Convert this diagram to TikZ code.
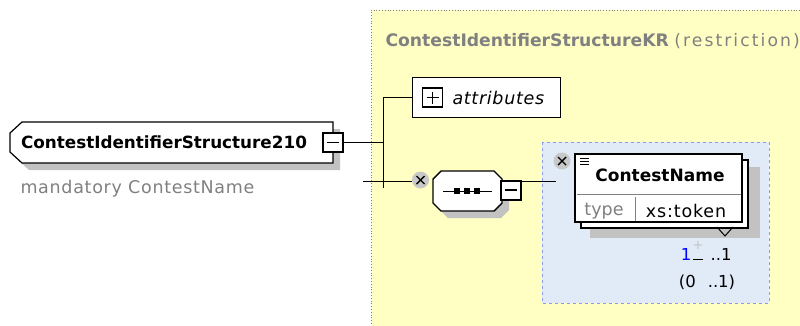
\documentclass[tikz,border=0pt]{standalone}
\usepackage{fontspec}
\setmainfont{DejaVu Sans}
\usetikzlibrary{calc}
\definecolor{cyel}{HTML}{FFFFC4}
\definecolor{cblue}{HTML}{E1EBF8}
\definecolor{cbluedge}{HTML}{8C9CF0}
\definecolor{cshadow}{HTML}{C2C2C2}
\definecolor{cgraytext}{HTML}{808080}
\definecolor{cxcirc}{HTML}{C8C8C8}
\definecolor{cnum}{HTML}{0000FF}
\begin{document}
\begin{tikzpicture}[x=1pt,y=-1pt, line width=1pt,
  pmbox/.style={draw=black, line width=2pt, fill=white, minimum width=20pt, minimum height=19pt, inner sep=0pt},
  xcirc/.style={circle, fill=cxcirc, minimum size=17pt, inner sep=0pt},
  elbox/.style={draw=black, line width=1.2pt, fill=white},
  shad/.style={fill=cshadow},
  lbl/.style={inner sep=0pt, text=black}]
\useasboundingbox (0,0) rectangle (800,325);
% yellow complex type area
\begin{scope}
\clip (0,0) rectangle (800,325);
\fill[cyel] (371,10) rectangle (810,335);
\draw[cgraytext, dotted, line width=0.8pt] (371,335) -- (371,10) -- (810,10);
\end{scope}
\node[lbl, anchor=west, text=cgraytext, font=\fontsize{17.2}{18}\selectfont] (title) at (385,41)
  {\textbf{ContestIdentifierStructureKR} {\addfontfeature{LetterSpace=12}(restriction)}};

% main element
\fill[shad] (29,129) -- (340,129) -- (340,170) -- (29,170) -- (17,159) -- (17,140) -- cycle;
\draw[elbox] (22,122) -- (333,122) -- (333,163) -- (22,163) -- (10,152) -- (10,133) -- cycle;
\node[lbl, font=\bfseries\fontsize{16.8}{18}\selectfont] (mainlbl) at (164,142) {ContestIdentifierStructure210};
\node[pmbox] (mm) at (333,142.5) {};
\draw[line width=1.2pt] ($(mm.center)+(-6,0)$) -- ($(mm.center)+(6,0)$);
\node[lbl, anchor=west, text=cgraytext, font=\fontsize{17.5}{19}\selectfont\addfontfeature{LetterSpace=4}] (mand) at (20,189) {mandatory ContestName};

% bus
\coordinate (bus) at (383,97);
\coordinate (busend) at (383,188);
\coordinate (seqin) at (363,181);
\draw (mm.east) -- (mm.east -| bus);
\draw (bus) -- (busend);

% attributes
\node[elbox, line width=1pt, minimum width=148pt, minimum height=40pt, inner sep=0pt] (attr) at (486,97) {};
\draw (bus) -- (attr.west);
\node[draw=black, line width=1.8pt, fill=white, minimum width=20pt, minimum height=19pt, inner sep=0pt] (plus) at (432.5,97.5) {};
\draw[line width=1.2pt] ($(plus.center)+(-6,0)$) -- ($(plus.center)+(6,0)$);
\draw[line width=1.2pt] ($(plus.center)+(0,-6)$) -- ($(plus.center)+(0,6)$);
\node[lbl, anchor=west, font=\itshape\fontsize{17.5}{19}\selectfont\addfontfeature{LetterSpace=4}] (attrtxt) at (452,98) {attributes};

% sequence
\node[xcirc] (ox) at (420.5,180) {};
\draw[line width=1.4pt] ($(ox.center)+(-4,-4)$) -- ($(ox.center)+(4,4)$);
\draw[line width=1.4pt] ($(ox.center)+(-4,4)$) -- ($(ox.center)+(4,-4)$);
\draw (seqin) -- (seqin -| ox.west);
\fill[shad] (448,178) -- (501,178) -- (509,186) -- (509,210) -- (501,218) -- (448,218) -- (440,210) -- (440,186) -- cycle;
\draw[elbox, line width=1.4pt] (441,171) -- (494,171) -- (502,179) -- (502,203) -- (494,211) -- (441,211) -- (433,203) -- (433,179) -- cycle;
\node[inner sep=0pt, minimum width=69pt, minimum height=40pt] (seq) at (467.5,191) {};
\draw (443,191) -- (492,191);
\foreach \xx in {457,467,477} \fill (\xx-3,188) rectangle (\xx+3,194);
\node[pmbox] (sm) at (511,190) {};
\draw[line width=1.2pt] ($(sm.center)+(-6,0)$) -- ($(sm.center)+(6,0)$);

% blue group
\draw[dashed, cbluedge, fill=cblue, line width=0.8pt] (542,142) rectangle (769,303);
\coordinate (cnin) at (556,181);
\draw (sm.east |- cnin) -- (cnin);

% ContestName element
\fill[shad] (590,167) rectangle (760,238);
\draw[elbox] (581,160) rectangle (748,228);
\draw[elbox] (575,154) rectangle (742,222);
\node[inner sep=0pt, minimum width=167pt, minimum height=68pt] (cn) at (658.5,188) {};
\node[xcirc] (cx) at (562,161) {};
\draw[line width=1.4pt] ($(cx.center)+(-4,-4)$) -- ($(cx.center)+(4,4)$);
\draw[line width=1.4pt] ($(cx.center)+(-4,4)$) -- ($(cx.center)+(4,-4)$);
\foreach \yy in {158,161,164} \draw[line width=0.9pt] (580,\yy) -- (589,\yy);
\node[lbl, font=\bfseries\fontsize{17}{19}\selectfont] (cnlbl) at (660,175) {ContestName};
\draw[cgraytext] (577,194) -- (741,194);
\node[lbl, text=cgraytext, font=\fontsize{17.5}{19}\selectfont] (typ) at (604,211) {type};
\draw[cgraytext] (635,197) -- (635,221);
\draw (629,221.5) -- (641,221.5);
\node[lbl, font=\fontsize{17.5}{19}\selectfont\addfontfeature{LetterSpace=5}] (tok) at (686,211) {xs:token};
\draw (717,227) -- (725,236) -- (733,227);

% multiplicity
\node[lbl, text=cnum, font=\fontsize{16.5}{18}\selectfont] (n1) at (686,254) {1};
\node[lbl, text=cshadow, font=\fontsize{13}{14}\selectfont] (npl) at (698,245) {+};
\draw (693,259) -- (703,259);
\node[lbl, font=\fontsize{16.5}{18}\selectfont] (n2) at (721,254) {..1};
\node[lbl, font=\fontsize{16.5}{18}\selectfont] (n3) at (707,282) {(0\hspace{12pt}..1)};
\end{tikzpicture}
\end{document}
